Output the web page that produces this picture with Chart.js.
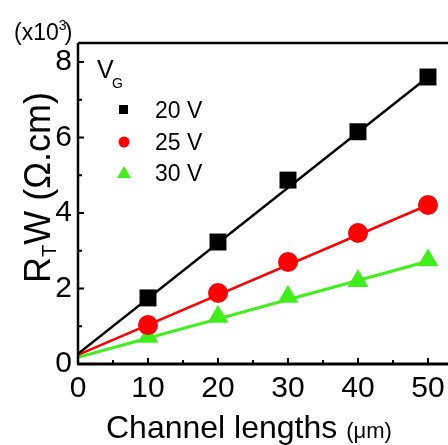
<!DOCTYPE html>
<html>
<head>
<meta charset="utf-8">
<script src="https://cdn.jsdelivr.net/npm/chart.js@4.4.0/dist/chart.umd.min.js"></script>
<style>
  html, body { margin: 0; padding: 0; background: #fff; overflow: hidden; }
</style>
</head>
<body>
<canvas id="grafico" width="448" height="445"></canvas>
<script>
// datos (R_T·W en unidades de 10^3 Ω.cm)
const lengths = [10, 20, 30, 40, 50];
const rw20 = [1.75, 3.23, 4.87, 6.15, 7.60];
const rw25 = [1.03, 1.88, 2.70, 3.47, 4.21];
const rw30 = [0.72, 1.25, 1.78, 2.20, 2.75];

// rectas de ajuste (extremos en x = 0 y x = 50)
const fitX = [0, 50];
const fit20 = [0.27, 7.60];
const fit25 = [0.24, 4.21];
const fit30 = [0.18, 2.72];

const xTicks = [0, 10, 20, 30, 40, 50];
const xMinor = [5, 15, 25, 35, 45];
const yTicks = [0, 2, 4, 6, 8];
const yMinor = [1, 3, 5, 7];
const seriesLabels = ['20 V', '25 V', '30 V'];

const NEGRO = '#000000';
const ROJO = '#ff0000';
const VERDE = '#40ee1c';
const FUENTE = "'Liberation Sans', Arial, sans-serif";

const pts = (xs, ys) => xs.map((x, i) => ({ x: x, y: ys[i] }));

// marco, ticks interiores, leyenda y títulos
const marco = {
    id: 'marco',
    afterDatasetsDraw(chart) {
        const { ctx, chartArea: a, scales: { x, y } } = chart;
        ctx.save();
        ctx.strokeStyle = NEGRO;
        ctx.lineCap = 'butt';

        ctx.lineWidth = 2.5;
        ctx.beginPath();
        ctx.moveTo(a.left, a.top);
        ctx.lineTo(a.right, a.top);
        ctx.moveTo(a.left, a.top);
        ctx.lineTo(a.left, a.bottom);
        ctx.stroke();
        ctx.lineWidth = 3;
        ctx.beginPath();
        ctx.moveTo(a.left - 1, a.bottom);
        ctx.lineTo(a.right, a.bottom);
        ctx.stroke();

        ctx.lineWidth = 2;
        ctx.beginPath();
        xTicks.forEach(v => { const px = x.getPixelForValue(v); ctx.moveTo(px, a.bottom); ctx.lineTo(px, a.bottom - 6); });
        xMinor.forEach(v => { const px = x.getPixelForValue(v); ctx.moveTo(px, a.bottom); ctx.lineTo(px, a.bottom - 4); });
        yTicks.forEach(v => { const py = y.getPixelForValue(v); ctx.moveTo(a.left, py); ctx.lineTo(a.left + 6, py); });
        yMinor.forEach(v => { const py = y.getPixelForValue(v); ctx.moveTo(a.left, py); ctx.lineTo(a.left + 4, py); });
        ctx.stroke();
        ctx.restore();
    },
    afterDraw(chart) {
        const ctx = chart.ctx;
        ctx.save();
        ctx.fillStyle = NEGRO;
        ctx.textBaseline = 'alphabetic';
        ctx.textAlign = 'left';

        // (x10^3)
        ctx.font = '23px ' + FUENTE;
        ctx.fillText('(x10', 14, 40);
        let w = ctx.measureText('(x10').width;
        ctx.font = '14px ' + FUENTE;
        ctx.fillText('3', 14 + w, 30);
        ctx.font = '23px ' + FUENTE;
        ctx.fillText(')', 14 + w + 6, 40);

        // leyenda
        ctx.font = '25px ' + FUENTE;
        ctx.fillText('V', 97, 78);
        ctx.font = '14px ' + FUENTE;
        ctx.fillText('G', 112, 88);

        const filas = [110, 142, 173];
        const colores = [NEGRO, ROJO, VERDE];
        filas.forEach((fy, i) => {
            ctx.fillStyle = colores[i];
            ctx.beginPath();
            if (i === 0) {
                ctx.rect(119, fy - 5, 9, 9);
            } else if (i === 1) {
                ctx.arc(124, fy, 5.5, 0, Math.PI * 2);
            } else {
                ctx.moveTo(124, fy - 7);
                ctx.lineTo(131, fy + 5);
                ctx.lineTo(117, fy + 5);
                ctx.closePath();
            }
            ctx.fill();
            ctx.fillStyle = NEGRO;
            ctx.font = '23px ' + FUENTE;
            ctx.fillText(seriesLabels[i], 155, fy + 8);
        });

        // título eje x
        ctx.font = '32px ' + FUENTE;
        ctx.fillText('Channel lengths', 106, 438);
        w = ctx.measureText('Channel lengths ').width;
        ctx.font = '22px ' + FUENTE;
        ctx.fillText('(\u03bcm)', 106 + w, 438);

        // título eje y (rotado)
        ctx.translate(50, 283);
        ctx.rotate(-Math.PI / 2);
        ctx.font = '36px ' + FUENTE;
        ctx.fillText('R', 0, 0);
        let off = ctx.measureText('R').width;
        ctx.font = '20px ' + FUENTE;
        ctx.fillText('T', off, 6);
        off += ctx.measureText('T').width;
        ctx.font = '36px ' + FUENTE;
        ctx.fillText('W (\u03a9.cm)', off, 0);
        ctx.restore();
    }
};

const ctxGrafico = document.getElementById('grafico').getContext('2d');
window.grafico = new Chart(ctxGrafico, {
    type: 'scatter',
    data: {
        datasets: [
            { label: seriesLabels[0], data: pts(lengths, rw20), pointStyle: 'rect', pointRadius: 12,
              backgroundColor: NEGRO, borderColor: NEGRO, borderWidth: 0, showLine: false },
            { label: seriesLabels[1], data: pts(lengths, rw25), pointStyle: 'circle', pointRadius: 10,
              backgroundColor: ROJO, borderColor: ROJO, borderWidth: 0, showLine: false },
            { label: seriesLabels[2], data: pts(lengths, rw30), pointStyle: 'triangle', pointRadius: 12,
              backgroundColor: VERDE, borderColor: VERDE, borderWidth: 0, showLine: false },
            { label: 'ajuste 20', data: pts(fitX, fit20), showLine: true, pointRadius: 0,
              borderColor: NEGRO, borderWidth: 2.5 },
            { label: 'ajuste 25', data: pts(fitX, fit25), showLine: true, pointRadius: 0,
              borderColor: ROJO, borderWidth: 2.5 },
            { label: 'ajuste 30', data: pts(fitX, fit30), showLine: true, pointRadius: 0,
              borderColor: VERDE, borderWidth: 3 }
        ]
    },
    options: {
        responsive: false,
        animation: false,
        layout: { autoPadding: false, padding: { top: 43, left: 0, right: 0, bottom: 0 } },
        plugins: { legend: { display: false }, tooltip: { enabled: false } },
        scales: {
            x: {
                type: 'linear', min: 0, max: 52.86,
                grid: { display: false, drawTicks: false },
                border: { display: false },
                afterBuildTicks: s => { s.ticks = xTicks.map(v => ({ value: v })); },
                afterFit: s => { s.height = 81; s.paddingLeft = 0; s.paddingRight = 0; },
                ticks: { padding: 7, color: NEGRO, maxRotation: 0, autoSkip: false,
                         font: { family: FUENTE, size: 30 } }
            },
            y: {
                type: 'linear', min: 0, max: 8.5,
                grid: { display: false, drawTicks: false },
                border: { display: false },
                afterBuildTicks: s => { s.ticks = yTicks.map(v => ({ value: v })); },
                afterFit: s => { s.width = 78; s.paddingTop = 0; s.paddingBottom = 0; },
                ticks: { padding: 6, color: NEGRO, font: { family: FUENTE, size: 30 } }
            }
        }
    },
    plugins: [marco]
});
</script>
</body>
</html>
